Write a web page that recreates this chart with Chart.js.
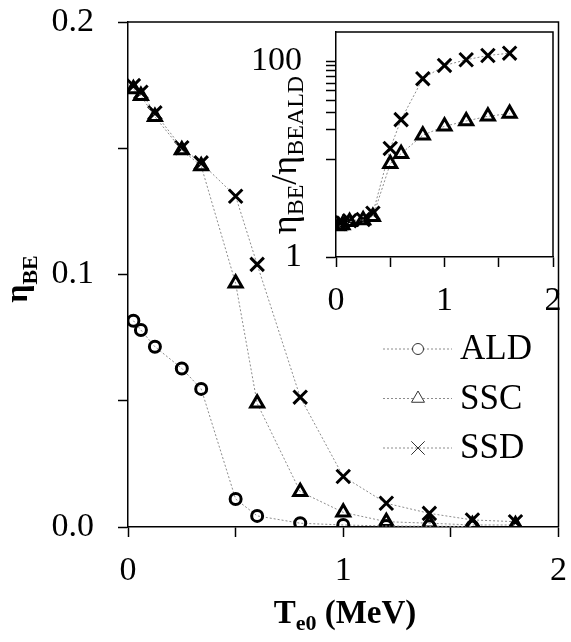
<!DOCTYPE html>
<html>
<head>
<meta charset="utf-8">
<script src="https://cdn.jsdelivr.net/npm/chart.js@4.4.1/dist/chart.umd.min.js"></script>
<style>
    html, body { margin: 0; padding: 0; background: #fff; }
    #quadro { position: relative; width: 571px; height: 642px; }
    #principal { position: absolute; left: 0; top: 0; }
    #inset { position: absolute; left: 240px; top: 11px; }
</style>
</head>
<body>
<div id="quadro">
    <canvas id="principal" width="571" height="642"></canvas>
    <canvas id="inset" width="330" height="310"></canvas>
</div>
<script>
// Dados (T_e0 em MeV)
const energia = [0.025, 0.06, 0.125, 0.25, 0.34, 0.5, 0.6, 0.8, 1.0, 1.2, 1.4, 1.6, 1.8];
const etaALD = [0.0817, 0.078, 0.0714, 0.0628, 0.0547, 0.0111, 0.0044, 0.0015, 0.0008, 0.0004, 0.0003, 0.0002];
const etaSSC = [0.1735, 0.1708, 0.1625, 0.1493, 0.143, 0.0965, 0.049, 0.014, 0.0058, 0.0021, 0.0015, 0.0008, 0.0008];
const etaSSD = [0.1748, 0.1722, 0.164, 0.1502, 0.1442, 0.131, 0.104, 0.0514, 0.0200, 0.0094, 0.0054, 0.0028, 0.0021];

// Inset: razão η_BE / η_BEALD (escala log)
const energiaInset = [0.025, 0.06, 0.125, 0.25, 0.34, 0.5, 0.6, 0.8, 1.0, 1.2, 1.4, 1.6];
const razaoSSC = [2.07, 2.12, 2.29, 2.39, 2.58, 9.0, 11.4, 17.6, 21.7, 24.6, 27.5, 29.3];
const razaoSSD = [2.2, 2.24, 2.35, 2.42, 2.8, 12.9, 25.4, 66.6, 91, 104, 115, 121.5];

// Marcas dos eixos
const ticksX = [0, 0.5, 1, 1.5, 2];
const rotulosX = ['0', '', '1', '', '2'];
const ticksY = [0, 0.05, 0.1, 0.15, 0.2];
const rotulosY = ['0.0', '', '0.1', '', '0.2'];
const ticksLog = [1, 10, 20, 30, 40, 50, 60, 70, 80, 90, 100];
const rotulosLog = ['1', '', '', '', '', '', '', '', '', '', '100'];
const legendas = ['ALD', 'SSC', 'SSD'];

const SERIF = '"Liberation Serif", "Times New Roman", serif';
const LINHA = '#8c8c8c';
const estilos = {
    ALD: { pointStyle: 'circle', radius: 5.5 },
    SSC: { pointStyle: 'triangle', radius: 7.5 },
    SSD: { pointStyle: 'crossRot', radius: 9.5 }
};

function pontos(xs, ys) {
    return ys.map((y, i) => ({ x: xs[i], y: y }));
}

function serie(nome, xs, ys) {
    return {
        label: nome,
        data: pontos(xs, ys),
        showLine: true,
        borderColor: LINHA,
        borderWidth: 1,
        borderDash: [2, 2],
        pointStyle: estilos[nome].pointStyle,
        pointRadius: estilos[nome].radius,
        pointBorderColor: '#000',
        pointBorderWidth: 3,
        pointBackgroundColor: 'rgba(0,0,0,0)'
    };
}

function eixo(valores, rotulos, largura, extra) {
    return Object.assign({
        afterBuildTicks: s => { s.ticks = valores.map(v => ({ value: v })); },
        afterFit: s => {
            if (s.isHorizontal()) { s.height = largura; s.paddingLeft = 0; s.paddingRight = 0; }
            else { s.width = largura; s.paddingTop = 0; s.paddingBottom = 0; }
        },
        ticks: {
            autoSkip: false,
            maxRotation: 0,
            color: '#000',
            padding: 24,
            font: { family: SERIF, size: 34 },
            callback: (v, i) => rotulos[i]
        },
        grid: { drawOnChartArea: false, tickLength: 10, tickColor: '#000', tickWidth: 1.5 },
        border: { color: '#000', width: 1.5 }
    }, extra);
}

// Texto com subscritos
function escreve(ctx, partes, x, y, angulo) {
    ctx.save();
    ctx.translate(x, y);
    ctx.rotate(angulo);
    ctx.fillStyle = '#000';
    ctx.textBaseline = 'alphabetic';
    ctx.textAlign = 'left';
    let total = 0;
    partes.forEach(p => { ctx.font = p.fonte; total += ctx.measureText(p.texto).width; });
    let pos = -total / 2;
    partes.forEach(p => {
        ctx.font = p.fonte;
        ctx.fillText(p.texto, pos, p.desce || 0);
        pos += ctx.measureText(p.texto).width;
    });
    ctx.restore();
}

function moldura(chart) {
    const a = chart.chartArea;
    const ctx = chart.ctx;
    ctx.save();
    ctx.strokeStyle = '#000';
    ctx.lineWidth = 1.5;
    ctx.beginPath();
    ctx.moveTo(a.left, a.top);
    ctx.lineTo(a.right, a.top);
    ctx.lineTo(a.right, a.bottom);
    ctx.stroke();
    ctx.restore();
}

const extrasPrincipal = {
    id: 'extrasPrincipal',
    afterDraw(chart) {
        const ctx = chart.ctx;
        moldura(chart);

        // Títulos dos eixos
        escreve(ctx, [
            { texto: 'η', fonte: 'bold 32px ' + SERIF },
            { texto: 'BE', fonte: 'bold 22px ' + SERIF, desce: 10 }
        ], 27, 279, -Math.PI / 2);
        escreve(ctx, [
            { texto: 'T', fonte: 'bold 33px ' + SERIF },
            { texto: 'e0', fonte: 'bold 22px ' + SERIF, desce: 7 },
            { texto: ' (MeV)', fonte: 'bold 33px ' + SERIF }
        ], 345, 623, 0);

        // Legenda
        legendas.forEach((nome, i) => {
            const y = 349 + i * 49.5;
            ctx.save();
            ctx.strokeStyle = LINHA;
            ctx.lineWidth = 1;
            ctx.setLineDash([2, 2]);
            ctx.beginPath();
            ctx.moveTo(383, y);
            ctx.lineTo(452, y);
            ctx.stroke();
            ctx.setLineDash([]);
            ctx.strokeStyle = '#333';
            ctx.fillStyle = '#fff';
            Chart.helpers.drawPoint(ctx, {
                pointStyle: estilos[nome].pointStyle,
                radius: estilos[nome].radius,
                rotation: 0,
                borderWidth: 1
            }, 418, y);
            ctx.fillStyle = '#000';
            ctx.font = '35px ' + SERIF;
            ctx.textBaseline = 'middle';
            ctx.textAlign = 'left';
            ctx.fillText(nome, 460, y + 1);
            ctx.restore();
        });
    }
};

const extrasInset = {
    id: 'extrasInset',
    afterDraw(chart) {
        moldura(chart);
        escreve(chart.ctx, [
            { texto: 'η', fonte: '36px ' + SERIF },
            { texto: 'BE', fonte: '24px ' + SERIF, desce: 7 },
            { texto: '/', fonte: '36px ' + SERIF },
            { texto: 'η', fonte: '36px ' + SERIF },
            { texto: 'BEALD', fonte: '24px ' + SERIF, desce: 7 }
        ], 296 - 240, 155 - 11, -Math.PI / 2);
    }
};

const eixoX = (altura) => {
    const e = eixo(ticksX, rotulosX, altura, { type: 'linear', min: 0, max: 2 });
    e.ticks.padding = 14;
    return e;
};

const graficoPrincipal = new Chart(document.getElementById('principal'), {
    type: 'scatter',
    data: {
        datasets: [
            serie('ALD', energia, etaALD),
            serie('SSC', energia, etaSSC),
            serie('SSD', energia, etaSSD)
        ]
    },
    options: {
        responsive: false,
        animation: false,
        layout: { padding: { left: 0, right: 9, top: 22, bottom: 0 } },
        plugins: { legend: { display: false }, tooltip: { enabled: false } },
        scales: {
            x: eixoX(115),
            y: eixo(ticksY, rotulosY, 128, { type: 'linear', min: 0, max: 0.2 })
        }
    },
    plugins: [extrasPrincipal]
});

const graficoInset = new Chart(document.getElementById('inset'), {
    type: 'scatter',
    data: {
        datasets: [
            serie('SSC', energiaInset, razaoSSC),
            serie('SSD', energiaInset, razaoSSD)
        ]
    },
    options: {
        responsive: false,
        animation: false,
        layout: { padding: { left: 0, right: 17, top: 21, bottom: 0 } },
        plugins: { legend: { display: false }, tooltip: { enabled: false } },
        scales: {
            x: eixoX(64),
            y: eixo(ticksLog, rotulosLog, 96, { type: 'logarithmic', min: 1, max: 200 })
        }
    },
    plugins: [extrasInset]
});
</script>
</body>
</html>
